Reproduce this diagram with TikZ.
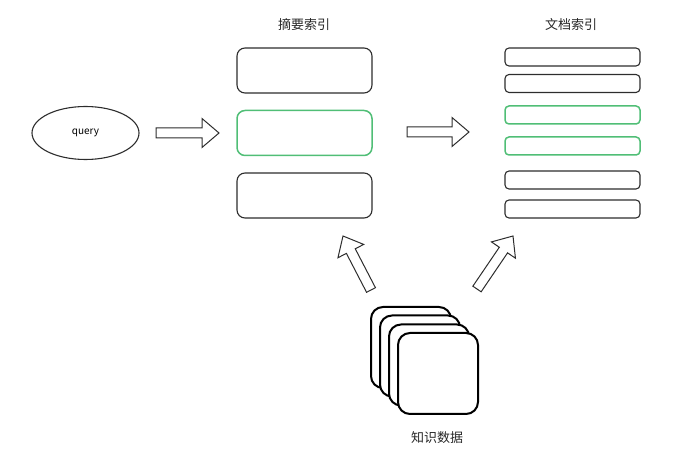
\documentclass[tikz,border=0pt]{standalone}
\usepackage{fontspec}
\newfontfamily\cjk{Noto Sans CJK SC}
\usetikzlibrary{calc,shapes.geometric}
\definecolor{lineg}{RGB}{45,45,45}
\definecolor{hlgreen}{RGB}{80,190,118}
\tikzset{
  sumbox/.style={draw=lineg, line width=1.1pt, rounded corners=8pt, minimum width=135pt, minimum height=45pt, inner sep=0pt},
  docbox/.style={draw=lineg, line width=1.1pt, rounded corners=4pt, minimum width=135pt, minimum height=18pt, inner sep=0pt},
  hit/.style={draw=hlgreen, line width=1.5pt},
  card/.style={draw=black, line width=2pt, fill=white, rounded corners=12pt, minimum width=80pt, minimum height=81pt, inner sep=0pt},
  title/.style={font=\cjk\fontsize{13pt}{15pt}\selectfont, text=black!85, inner sep=0pt},
  blockarrow/.style={draw=lineg, line width=1pt, fill=white, line join=miter}
}
\newcommand{\blockarr}[2]{%
  \draw[blockarrow]
    ($(#1)!5pt!90:(#2)$) --
    ($($(#2)!17pt!(#1)$)!5pt!-90:(#1)$) --
    ($($(#2)!17pt!(#1)$)!14.5pt!-90:(#1)$) --
    (#2) --
    ($($(#2)!17pt!(#1)$)!14.5pt!90:(#1)$) --
    ($($(#2)!17pt!(#1)$)!5pt!90:(#1)$) --
    ($(#1)!5pt!-90:(#2)$) -- cycle;}
\begin{document}
\begin{tikzpicture}[x=1pt,y=-1pt]
\useasboundingbox (0,0) rectangle (681,473);
% query
\node[draw=lineg, line width=1.1pt, ellipse, minimum width=107pt, minimum height=53pt, inner sep=0pt,
      font=\cjk\fontsize{10pt}{12pt}\selectfont] (query) at (85.5,133) {query};
% titles
\node[title] (t1) at (304,25) {摘要索引};
\node[title] (t2) at (571,25) {文档索引};
% summary index
\node[sumbox] (s1) at (304.5,70.5) {};
\node[sumbox,hit] (s2) at (304.5,133) {};
\node[sumbox] (s3) at (304.5,195.5) {};
% document index
\node[docbox] (d1) at (572.5,57) {};
\node[docbox] (d2) at (572.5,83.5) {};
\node[docbox,hit] (d3) at (572.5,115) {};
\node[docbox,hit] (d4) at (572.5,146) {};
\node[docbox] (d5) at (572.5,180) {};
\node[docbox] (d6) at (572.5,209) {};
% knowledge cards
\node[card] (k1) at (411,347.5) {};
\node[card] (k2) at (420,356) {};
\node[card] (k3) at (429,365) {};
\node[card] (k4) at (438,373.5) {};
\node[title] (kl) at (437,438) {知识数据};
% arrows
\coordinate (a1s) at (156,133);
\coordinate (a1e) at (219,133);
\coordinate (a2s) at (407,132);
\coordinate (a2e) at (469,132);
\coordinate (a3s) at (371,290);
\coordinate (a3e) at (343,236);
\coordinate (a4s) at (477,289);
\coordinate (a4e) at (513,236);
\blockarr{a1s}{a1e}
\blockarr{a2s}{a2e}
\blockarr{a3s}{a3e}
\blockarr{a4s}{a4e}
\end{tikzpicture}
\end{document}
